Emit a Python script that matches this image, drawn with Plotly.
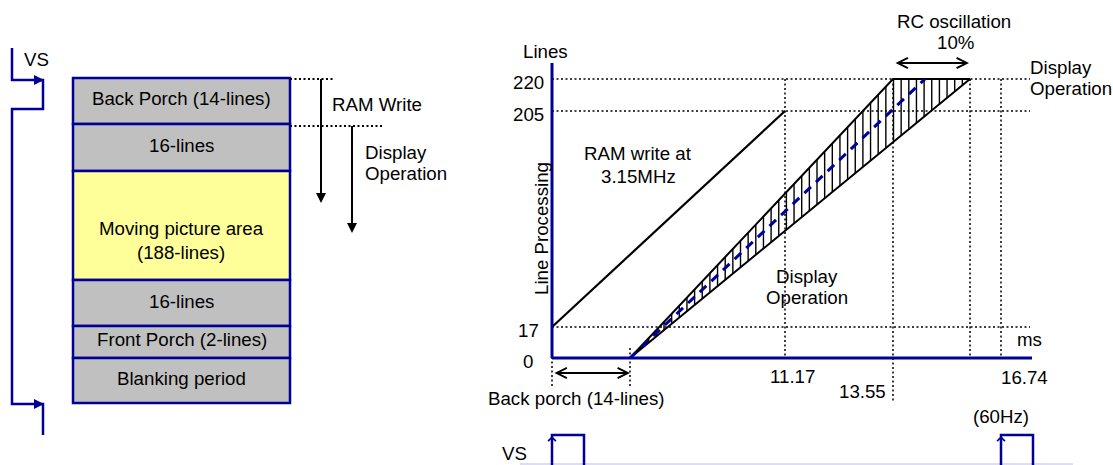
import plotly.graph_objects as go

# ---------------- data ----------------
block_labels = ["Back Porch (14-lines)", "16-lines", "Moving picture area<br>(188-lines)",
                "16-lines", "Front Porch (2-lines)", "Blanking period"]
block_lines = [14, 16, 188, 16, 2, None]
block_is_active = [False, False, True, False, False, False]

line_ticks = [0, 17, 205, 220]            # Lines axis labels
time_ticks = [11.17, 13.55, 16.74]        # ms axis labels
ram_write_start = (0.0, 17)               # (ms, line)
ram_write_end = (11.17, 205)
display_fast_end = (13.55, 220)
display_start = ("bp", 0)                 # end of back porch (14 lines)
display_slow_end = ("rc", 220)            # +10 % RC oscillation

# ---------------- schematic layout (not to scale) ----------------
W, H = 1113, 465
NAVY = "#000099"
FONT = "Liberation Sans, Arial, sans-serif"
FS = 18.7

# schematic positions on the page (px)
Y_LINE = {0: 358, 17: 327, 205: 111, 220: 79}
X_MS = {0.0: 552, "bp": 630, 11.17: 785, 13.55: 893, "rc": 970, 16.74: 1001}
BLOCK_EDGES = [78, 124, 171, 280, 326, 358, 403]
BLOCK_X = (73, 290)
BLOCK_TEXT_Y = [98, 145, 240, 301, 339, 378]

fig = go.Figure()


def line(xs, ys, color="black", width=2, dash=None):
    fig.add_trace(go.Scatter(x=xs, y=ys, mode="lines", hoverinfo="skip", showlegend=False,
                             line=dict(color=color, width=width, dash=dash)))


def text(x, y, s, size=FS, xanchor="center", angle=0, color="black"):
    fig.add_annotation(x=x, y=y, text=s, showarrow=False, xanchor=xanchor, yanchor="middle",
                       textangle=angle, font=dict(family=FONT, size=size, color=color))


def arrow(x, y, ax, ay, color="black", head=2, width=2, both=False, size=1.0):
    fig.add_annotation(x=x, y=y, ax=ax, ay=ay, xref="x", yref="y", axref="x", ayref="y",
                       text="", showarrow=True, arrowhead=head, arrowsize=size, arrowwidth=width,
                       arrowcolor=color, arrowside="end+start" if both else "end",
                       startarrowhead=head, startarrowsize=size)


DOT = "2px,2.5px"

# ================= left: frame structure =================
for i, lab in enumerate(block_labels):
    y0, y1 = BLOCK_EDGES[i], BLOCK_EDGES[i + 1]
    fig.add_shape(type="rect", x0=BLOCK_X[0], x1=BLOCK_X[1], y0=y0, y1=y1, xref="x", yref="y",
                  fillcolor="#c0ffff" if False else ("#ffff99" if block_is_active[i] else "#c0c0c0"),
                  line=dict(color=NAVY, width=2.5), layer="below")
    text((BLOCK_X[0] + BLOCK_X[1]) / 2, BLOCK_TEXT_Y[i], lab)

# VS waveform (left)
line([12, 12, 43, 43, 12, 12, 43, 43], [48, 80, 80, 109, 109, 404, 404, 435], color=NAVY, width=2.5)
arrow(44, 80, 30, 80, color=NAVY, head=2, width=2)
arrow(44, 404, 30, 404, color=NAVY, head=2, width=2)
text(36, 59, "VS")

# dotted guides and arrows
line([290, 335], [79, 79], width=2, dash=DOT)
line([290, 382], [126, 126], width=2, dash=DOT)
line([321, 321], [79, 195], width=2)
arrow(321, 203, 321, 190, head=2, width=2)
line([352, 352], [126, 225], width=2)
arrow(352, 233, 352, 220, head=2, width=2)
text(330, 104, "RAM Write", xanchor="left")
text(363, 152, "Display", xanchor="left")
text(363, 173, "Operation", xanchor="left")

# ================= right: timing chart =================
x0 = X_MS[0.0]
x_end = 1032
# dotted horizontal guides
for v in [17, 205, 220]:
    line([x0, 1030], [Y_LINE[v], Y_LINE[v]], width=1.5, dash=DOT)
# dotted vertical guides
for key in [11.17, "rc", 16.74]:
    line([X_MS[key], X_MS[key]], [Y_LINE[220], Y_LINE[0]], width=1.5, dash=DOT)
line([X_MS[13.55], X_MS[13.55]], [Y_LINE[220], 403], width=1.5, dash=DOT)
line([X_MS[0.0], X_MS[0.0]], [348, 387], width=1.5, dash=DOT)
line([X_MS["bp"], X_MS["bp"]], [348, 387], width=1.5, dash=DOT)

# hatched band (display operation with RC oscillation)
bx, by = X_MS[display_start[0]], Y_LINE[display_start[1]]
fx, fy = X_MS[display_fast_end[0]], Y_LINE[display_fast_end[1]]
sx, sy = X_MS[display_slow_end[0]], Y_LINE[display_slow_end[1]]
hx, hy = [], []
xh = sx - 7.65
while xh > bx + 3:
    up = fy if xh >= fx else by + (fy - by) * (xh - bx) / (fx - bx)
    lo = by + (sy - by) * (xh - bx) / (sx - bx)
    hx += [xh, xh, None]
    hy += [up, lo, None]
    xh -= 7.65
line(hx, hy, width=1.4)
line([bx, fx, sx, bx], [by, fy, sy, by], width=2)
# nominal (dashed)
line([bx, 925], [by, fy], color=NAVY, width=3, dash="9px,7px")

# RAM write line
line([X_MS[ram_write_start[0]], X_MS[ram_write_end[0]]],
     [Y_LINE[ram_write_start[1]], Y_LINE[ram_write_end[1]]], width=2.2)

# axes
line([x0, x0], [63, Y_LINE[0]], color=NAVY, width=3)
line([x0, x_end], [Y_LINE[0], Y_LINE[0]], color=NAVY, width=3)

# tick labels
for v in line_ticks:
    text(528, Y_LINE[v] + 3, str(v))
text(792, 376, f"{time_ticks[0]:.2f}")
text(862, 391, f"{time_ticks[1]:.2f}")
text(1024, 377, f"{time_ticks[2]:.2f}")
text(545, 51, "Lines")
text(541, 229, "Line Processing", angle=-90)
text(1029, 339, "ms")

# annotations in chart
text(638, 153, "RAM write at")
text(638, 176, "3.15MHz")
text(807, 276, "Display")
text(807, 297, "Operation")
text(1028, 67, "Display", xanchor="left")
text(1028, 88, "Operation", xanchor="left")
text(954, 21, "RC oscillation")
text(955, 42, "10%")
arrow(969, 63, 894, 63, head=5, width=2, both=True)
arrow(630, 373, 553, 373, head=5, width=2, both=True)
text(576, 398, "Back porch (14-lines)")
text(1001, 416, "(60Hz)")

# VS pulses (bottom)
line([520, 1073], [464, 464], color="#dcdcf4", width=2)
for px in [552, 1001]:
    line([px, px, px + 32, px + 32], [466, 435, 435, 466], color=NAVY, width=2.5)
    arrow(px, 436, px, 452, color=NAVY, head=4, width=1.5)
text(514, 453, "VS")

fig.update_layout(
    width=W, height=H, margin=dict(l=0, r=0, t=0, b=0),
    paper_bgcolor="white", plot_bgcolor="white", showlegend=False,
    xaxis=dict(range=[0, W], visible=False, fixedrange=True),
    yaxis=dict(range=[H, 0], visible=False, fixedrange=True),
)

fig.write_html("out.html", config={"displayModeBar": False},
               post_script="document.body.style.margin='0px';document.body.style.overflow='hidden';")
